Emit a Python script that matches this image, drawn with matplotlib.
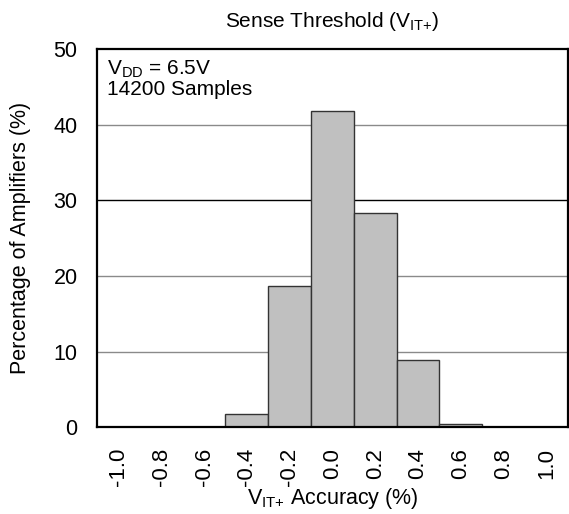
import numpy as np
import matplotlib
matplotlib.use("Agg")
import matplotlib.pyplot as plt

plt.rcParams['font.family'] = ['Liberation Sans', 'DejaVu Sans']
plt.rcParams['mathtext.fontset'] = 'custom'
plt.rcParams['mathtext.rm'] = 'Liberation Sans'

# histogram data
bins = ['-1.0', '-0.8', '-0.6', '-0.4', '-0.2', '0.0', '0.2', '0.4', '0.6', '0.8', '1.0']
percent = [0, 0, 0, 1.7, 18.7, 41.8, 28.3, 8.9, 0.5, 0, 0]
yticks = [0, 10, 20, 30, 40, 50]

fig = plt.figure(figsize=(5.69, 5.14), dpi=100)
ax = fig.add_axes([0.1705, 0.1687, 0.8275, 0.736])

x = np.arange(len(bins))
for y in yticks[1:-1]:
    ax.axhline(y, color='black' if y == 30 else '#8a8a8a', lw=1.0, zorder=1)
ax.bar(x, percent, width=1.0, color='#c0c0c0', edgecolor='#333333', lw=1.0, zorder=2)

ax.set_xlim(-0.5, len(bins) - 0.5)
ax.set_ylim(0, 50)
ax.set_xticks(x)
ax.set_xticklabels(bins, rotation=90, fontsize=16)
ax.set_yticks(yticks)
ax.tick_params(axis='both', length=0)
ax.tick_params(axis='y', pad=14, labelsize=15.5)
ax.tick_params(axis='x', pad=15)
for s in ax.spines.values():
    s.set_linewidth(1.6)
    s.set_zorder(3)

ax.set_title(r'Sense Threshold (V$\mathregular{_{IT{+}}}$)', fontsize=15, pad=16)
ax.set_ylabel('Percentage of Amplifiers (%)', fontsize=15.5, labelpad=16)
ax.set_xlabel(r'V$\mathregular{_{IT{+}}}$ Accuracy (%)', fontsize=15.5, labelpad=0)
ax.text(0.022, 0.975, r'V$\mathregular{_{DD}}$ = 6.5V' + '\n14200 Samples',
        transform=ax.transAxes, va='top', ha='left', fontsize=15, linespacing=1.05)

fig.savefig('out.png', dpi=100)
